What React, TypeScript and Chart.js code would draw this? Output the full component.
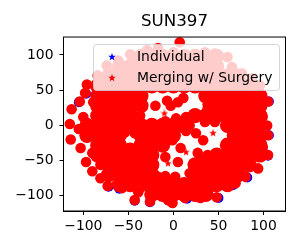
import React, { useEffect, useRef } from "react";
import { Chart, registerables } from "chart.js";

Chart.register(...registerables);

const TITLE = "SUN397";
const LABEL_INDIVIDUAL = "Individual";
const LABEL_MERGING = "Merging w/ Surgery";
const xTicks = [-100, -50, 0, 50, 100];
const yTicks = [-100, -50, 0, 50, 100];

const individual: [number, number][] = [
  [-97, 45], [-43, -107], [-26, -109], [-60, -90], [105, -43], [15, -104], [50, -103], [99, -32],
  [-5, -107], [82, -74], [-105, 33], [-72, -87], [106, -14], [66, -85], [106, 34], [-30, -80],
];

const coreRows: [number, number[]][] = [
  [98, [-36, -24, -12, 0, 12, 24, 36, 48]],
  [84, [-60, -48, -36, -24, -12, 0, 12, 24, 36, 48]],
  [70, [-72, -60, -48, -36, -24, -12, 0, 12, 24, 36, 48, 60, 72]],
  [56, [-84, -72, -60, -48, -36, -24, -12, 0, 12, 24, 36, 48, 60, 72, 84]],
  [42, [-84, -72, -60, -48, -36, 36, 48, 60, 72, 84, 96]],
  [28, [-84, -72, -60, -48, -36, 48, 60, 72, 84, 96]],
  [14, [-84, -72, -60, -48, 24, 36, 48, 60, 72, 84, 96]],
  [0, [-96, -84, -72, -60, -48, -36, -24, -12, 0, 12, 60, 72, 84, 96]],
  [-14, [-96, -84, -72, -60, -36, -24, -12, 0, 72, 84, 96]],
  [-28, [-84, -72, -60, -36, -24, -12, 60, 72, 84, 96]],
  [-35, [-48]],
  [-42, [-84, -72, -60, -48, -36, -24, 48, 60, 72, 84, 96]],
  [-56, [-72, -60, -48, -36, -24, 24, 36, 48, 60, 72, 84]],
  [-70, [-72, -60, -48, -36, -24, 24, 36, 48, 60, 72]],
  [-84, [-60, -48, -36, -24, -12, 0, 12, 24, 36, 48, 60]],
  [-98, [-24, -12, 0, 12, 24, 36]],
];

const mergingEdge: [number, number][] = [
  [-96, 58], [-98, 46], [-104, 34], [-113, 23], [-100, 12], [-115, 2], [-105, -5], [-89, 33],
  [-48, 101], [-61, 92], [-74, 85], [-84, 71], [-70, 74], [-29, 107], [-17, 110], [-45, 88],
  [0, 104], [13, 100], [24, 95], [7, 118], [35, 104], [46, 102], [60, 97], [46, 88], [65, 83],
  [76, 74], [87, 67], [96, 57], [105, 34], [91, 40], [83, 26], [99, 12], [104, 0],
  [-114, -20], [-103, -32], [-90, -39], [-97, -52], [-90, -65], [-81, -56], [-81, -75], [-73, -86],
  [-70, -71], [-57, -89], [-59, -73], [-43, -106], [-26, -108], [-39, -95], [-6, -106], [-9, -95],
  [-1, -110], [105, -14], [105, -42], [94, -61], [99, -31], [91, -42], [80, -73], [63, -85],
  [48, -102], [30, -103], [13, -103], [39, -92], [69, -82], [50, -81],
  [-7, 35], [-20, 28], [-3, 28], [33, -21], [8, -32], [27, -39], [5, -52], [-9, -45], [38, 24],
  [5, 33], [11, 39], [-9, 6], [3, 10], [14, 12], [18, 0], [35, 5], [46, 5], [-37, 14], [38, 30],
  [3, -7], [-1, -21], [-9, -72], [2, -73], [18, -68], [-17, -73], [38, -42], [33, -49], [65, -14],
  [-43, -11], [-54, -10], [14, -8], [25, -11],
];

const mergingStars: [number, number][] = [[44, -11], [14, -38], [-6, -54], [-10, 17]];

function makeStar(color: string, size: number): HTMLCanvasElement {
  const c = document.createElement("canvas");
  c.width = size;
  c.height = size;
  const ctx = c.getContext("2d")!;
  const m = size / 2;
  ctx.fillStyle = color;
  ctx.beginPath();
  for (let i = 0; i < 10; i++) {
    const r = i % 2 === 0 ? m : m * 0.42;
    const a = -Math.PI / 2 + (i * Math.PI) / 5;
    const px = m + r * Math.cos(a);
    const py = m + r * Math.sin(a);
    if (i === 0) ctx.moveTo(px, py);
    else ctx.lineTo(px, py);
  }
  ctx.closePath();
  ctx.fill();
  return c;
}

const FONT = '"DejaVu Sans"';
const toXY = (p: [number, number][]) => p.map(([x, y]) => ({ x, y }));
const coreXY = coreRows.flatMap(([y, xs]) => xs.map((x) => ({ x, y })));

export default function App() {
  const ref = useRef<HTMLCanvasElement>(null);
  useEffect(() => {
    document.body.style.margin = "0";
    const blueStar = makeStar("#0000ff", 8);
    const redStar = makeStar("#ff0000", 8);
    const frameAndLegend = {
      id: "frameAndLegend",
      afterDatasetsDraw(chart: any) {
        const { ctx, chartArea: a } = chart;
        ctx.save();
        ctx.strokeStyle = "#000";
        ctx.lineWidth = 1;
        ctx.strokeRect(a.left, a.top, a.right - a.left, a.bottom - a.top);
        const bx = 93.5, by = 44.5, bw = 186, bh = 46;
        ctx.beginPath();
        ctx.roundRect(bx, by, bw, bh, 3);
        ctx.fillStyle = "rgba(255,255,255,0.8)";
        ctx.fill();
        ctx.strokeStyle = "rgba(204,204,204,0.8)";
        ctx.stroke();
        ctx.drawImage(blueStar, 108, 53);
        ctx.drawImage(redStar, 108, 74);
        ctx.fillStyle = "#000";
        ctx.font = `13.9px ${FONT}`;
        ctx.textBaseline = "alphabetic";
        ctx.fillText(LABEL_INDIVIDUAL, 137, 61);
        ctx.fillText(LABEL_MERGING, 137, 82);
        ctx.restore();
      },
    };
    const chart = new Chart(ref.current!, {
      type: "scatter",
      data: {
        datasets: [
          { label: LABEL_INDIVIDUAL, data: toXY(individual), backgroundColor: "#0000ff", borderWidth: 0, pointRadius: 5, order: 4 },
          { label: LABEL_MERGING, data: toXY(mergingEdge), backgroundColor: "#ff0000", borderWidth: 0, pointRadius: 5.3, order: 2 },
          { label: LABEL_MERGING + " core", data: coreXY, backgroundColor: "#ff0000", borderWidth: 0, pointRadius: 7.6, order: 1 },
          { label: LABEL_MERGING + " single", data: toXY(mergingStars), backgroundColor: "#ff0000", pointStyle: redStar, order: 3 },
        ],
      } as any,
      options: {
        responsive: false,
        animation: false,
        layout: { padding: { right: 14.5, left: 0, top: 0, bottom: 0 } },
        plugins: {
          legend: { display: false },
          tooltip: { enabled: false },
          title: {
            display: true,
            fullSize: false,
            text: TITLE,
            color: "#000",
            font: { family: FONT, size: 16.7, weight: "normal" },
            padding: { top: 12, bottom: 5 },
          },
        },
        scales: {
          x: {
            type: "linear",
            min: -122,
            max: 124.4,
            afterBuildTicks: (s: any) => { s.ticks = xTicks.map((value) => ({ value })); },
            afterFit: (s: any) => { s.height = 39; },
            grid: { drawOnChartArea: false, tickLength: 4, tickColor: "#000" },
            border: { color: "#000" },
            ticks: {
              color: "#000",
              font: { family: FONT, size: 13.9 },
              padding: 3,
              maxRotation: 0,
              autoSkip: false,
              callback: (v: any) => String(v).replace("-", "\u2212"),
            },
          },
          y: {
            type: "linear",
            min: -121.5,
            max: 125.5,
            afterBuildTicks: (s: any) => { s.ticks = yTicks.map((value) => ({ value })); },
            afterFit: (s: any) => { s.width = 63.5; },
            grid: { drawOnChartArea: false, tickLength: 4, tickColor: "#000" },
            border: { color: "#000" },
            ticks: {
              color: "#000",
              font: { family: FONT, size: 13.9 },
              padding: 6,
              autoSkip: false,
              callback: (v: any) => String(v).replace("-", "\u2212"),
            },
          },
        },
      } as any,
      plugins: [frameAndLegend],
    });
    return () => chart.destroy();
  }, []);
  return <canvas ref={ref} width={300} height={250} style={{ display: "block" }} />;
}
